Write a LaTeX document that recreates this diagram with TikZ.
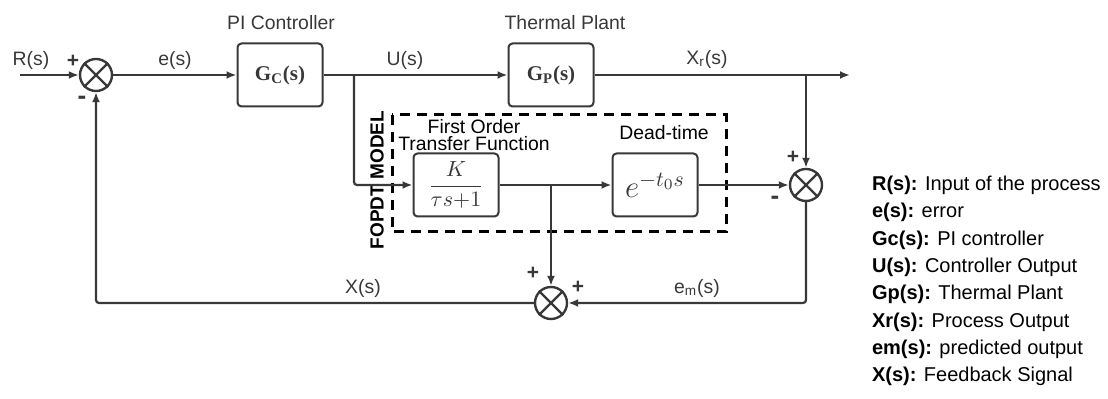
\RequirePackage{fix-cm}
\documentclass[tikz,border=0pt]{standalone}
\usepackage{amsmath,amssymb}
\usepackage{fontspec}
\setmainfont{Liberation Sans}
\newfontfamily\serifbf{Liberation Serif}
\usepackage{tikz}
\usetikzlibrary{arrows.meta,calc,positioning}
\definecolor{wirec}{HTML}{383838}
\tikzset{
  blk/.style={draw=wirec,line width=1pt,rounded corners=2pt,minimum width=42.5pt,minimum height=31.5pt,inner sep=0pt},
  sumj/.style={circle,draw=wirec,line width=1.2pt,minimum size=16pt,inner sep=0pt},
  sig/.style={-{Latex[length=5pt,width=4pt]},draw=wirec,line width=1.1pt,rounded corners=1.5pt},
  wire/.style={draw=wirec,line width=1.1pt},
  fopdt/.style={draw,line width=1.5pt,dash pattern=on 5pt off 3.5pt},
  sgn/.style={font=\fontsize{10.5}{10}\selectfont\bfseries},
  neg/.style={font=\fontsize{13}{13}\selectfont\bfseries},
  every node/.style={font=\fontsize{9.7}{11}\selectfont,text=wirec}
}

\begin{document}
\begin{tikzpicture}[x=0.5pt,y=-0.5pt]
\useasboundingbox (0,0) rectangle (1108,399);
% summing points
\node[sumj] (s1) at (96,75) {};
\node[sumj] (s2) at (806,185) {};
\node[sumj] (s3) at (551,303) {};
\foreach \s in {s1,s2,s3}
  \draw[wire] (\s.north west) -- (\s.south east) (\s.north east) -- (\s.south west);
% blocks
\node[blk] (gc) at (280,75) {\fontsize{10.5}{12}\selectfont\serifbf\bfseries G\textsubscript{C}(s)};
\node[blk] (gp) at (551,75) {\fontsize{10.5}{12}\selectfont\serifbf\bfseries G\textsubscript{P}(s)};
\node[blk] (fo) at (456,185) {\fontsize{11}{13}\selectfont$\dfrac{K}{\tau s{+}1}$};
\node[blk] (dt) at (655,185) {\fontsize{15.5}{17}\selectfont$e^{-t_0 s}$};
% model frame
\draw[fopdt] (392,115) rectangle (726,232);
\node[rotate=90,text=black,font=\fontsize{9.5}{11}\selectfont\bfseries] (fmlab) at (377,180) {FOPDT MODEL};
\node[align=center,text=black,font=\fontsize{9.7}{8.3}\selectfont,inner sep=1pt] (folab) at (474,135) {First Order\\Transfer Function};
\node[text=black] (dtlab) at (664,133) {Dead-time};
% branch points
\coordinate (rin) at (20,75);
\coordinate (bu) at (354,75);
\coordinate (bx) at (806,75);
\coordinate (xout) at (850,75);
\coordinate (bk) at (551,185);
% signals
\draw[sig] (rin) -- (s1);
\draw[sig] (s1) -- (gc);
\draw[sig] (gc) -- (gp);
\draw[sig] (gp) -- (xout);
\draw[sig] (bu) |- (fo);
\draw[sig] (fo) -- (dt);
\draw[sig] (bk) -- (s3);
\draw[sig] (dt) -- (s2);
\draw[sig] (bx) -- (s2);
\draw[sig] (s2) |- (s3);
\draw[sig] (s3) -| (s1);
% signal labels
\node (rlab) at (31,60) {R(s)};
\node (elab) at (175,60) {e(s)};
\node (gclab) at (281,23) {PI Controller};
\node (ulab) at (405,60) {U(s)};
\node (gplab) at (565,23) {Thermal Plant};
\node (xrlab) at (707,59) {X\textsubscript{r}(s)};
\node (xlab) at (363,288) {X(s)};
\node (emlab) at (697,288) {e\textsubscript{m}(s)};
% signs
\node[sgn] (p1) at (73,61) {+};
\node[neg] (m1) at (82,100) {-};
\node[sgn] (p2) at (793,157) {+};
\node[neg] (m2) at (775,200) {-};
\node[sgn] (p3) at (533,273) {+};
\node[sgn] (p4) at (578,287) {+};
% legend
\node[anchor=west,align=left,text=black,font=\fontsize{10}{13.65}\selectfont] (legend) at (865,281) {%
\textbf{R(s):} Input of the process\\
\textbf{e(s):} error\\
\textbf{Gc(s):} PI controller\\
\textbf{U(s):} Controller Output\\
\textbf{Gp(s):} Thermal Plant\\
\textbf{Xr(s):} Process Output\\
\textbf{em(s):} predicted output\\
\textbf{X(s):} Feedback Signal};
\end{tikzpicture}
\end{document}
